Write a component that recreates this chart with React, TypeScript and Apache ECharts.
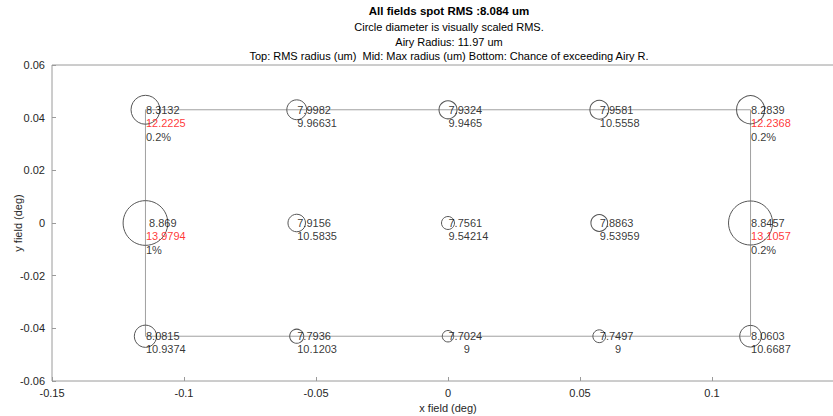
import React, { useEffect, useRef } from "react";
import * as echarts from "echarts";

// ---- data ----
const titleRms = 8.084;
const airyRadius = 11.97;
const xFields = [-0.1146, -0.0573, 0, 0.0573, 0.1146];
const yFields = [0.043, 0, -0.043];
const rmsRadius = [
  [8.3132, 7.9982, 7.9324, 7.9581, 8.2839],
  [8.869, 7.9156, 7.7561, 7.8863, 8.8457],
  [8.0815, 7.7936, 7.7024, 7.7497, 8.0603],
];
const maxRadius = [
  [12.2225, 9.96631, 9.9465, 10.5558, 12.2368],
  [13.9794, 10.5835, 9.54214, 9.53959, 13.1057],
  [10.9374, 10.1203, 9, 9, 10.6687],
];
const chanceExceed: (number | null)[][] = [
  [0.2, null, null, null, 0.2],
  [1, null, null, null, 0.2],
  [null, null, null, null, null],
];
const xTicks = { min: -0.15, max: 0.15, interval: 0.05 };
const yTicks = { min: -0.06, max: 0.06, interval: 0.02 };

// ---- styles ----
const FONT = "'Liberation Sans', Arial, sans-serif";
const SIZE_PER_UM = 28.5;
const SIZE_ZERO_UM = 7.3;

const pad = (v: number) => String(v).padStart(6, "\u00a0");

export default function App() {
  const ref = useRef<HTMLDivElement>(null);
  useEffect(() => {
    if (!ref.current) return;
    const chart = echarts.init(ref.current, undefined, { renderer: "svg" });

    const points: any[] = [];
    yFields.forEach((y, r) => {
      xFields.forEach((x, c) => {
        points.push([x, y, rmsRadius[r][c], maxRadius[r][c], chanceExceed[r][c]]);
      });
    });
    const x0 = xFields[0];
    const x1 = xFields[xFields.length - 1];
    const y0 = yFields[0];
    const y1 = yFields[yFields.length - 1];
    const frame = [
      [x0, y0],
      [x1, y0],
      [x1, y1],
      [x0, y1],
      [x0, y0],
    ];

    const txt = { fontFamily: FONT, fontSize: 11, lineHeight: 13.5 };
    const title = (text: string, y: number, bold = false) => ({
      type: "text",
      x: 449,
      y,
      style: {
        text,
        align: "center",
        verticalAlign: "middle",
        fontFamily: FONT,
        fontSize: bold ? 11.5 : 11,
        fontWeight: bold ? "bold" : "normal",
        fill: "#000",
      },
    });

    chart.setOption({
      animation: false,
      textStyle: { fontFamily: FONT },
      grid: {
        left: 52,
        right: 26,
        top: 65,
        bottom: 35,
        containLabel: false,
        outerBoundsMode: "none",
        show: true,
        borderColor: "#9a9a9a",
        borderWidth: 1,
        backgroundColor: "transparent",
      },
      xAxis: {
        type: "value",
        ...xTicks,
        name: "x field (deg)",
        nameLocation: "middle",
        nameGap: 21,
        nameTextStyle: { fontSize: 11, color: "#262626", fontFamily: FONT },
        axisLine: { show: false, onZero: false },
        axisTick: { show: true, inside: true, length: 4, lineStyle: { color: "#9a9a9a" } },
        splitLine: { show: false },
        axisLabel: {
          color: "#262626",
          fontSize: 11,
          margin: 6,
          fontFamily: FONT,
          showMaxLabel: false,
        },
      },
      yAxis: {
        type: "value",
        ...yTicks,
        name: "y field (deg)",
        nameLocation: "middle",
        nameGap: 29,
        nameMoveOverlap: false,
        nameTextStyle: { fontSize: 11, color: "#262626", fontFamily: FONT },
        axisLine: { show: false, onZero: false },
        axisTick: { show: true, inside: true, length: 4, lineStyle: { color: "#9a9a9a" } },
        splitLine: { show: false },
        axisLabel: { color: "#262626", fontSize: 11, margin: 7, fontFamily: FONT },
      },
      graphic: [
        title(`All fields spot RMS :${titleRms} um`, 11, true),
        title("Circle diameter is visually scaled RMS.", 27),
        title(`Airy Radius: ${airyRadius} um`, 42),
        title("Top: RMS radius (um)  Mid: Max radius (um) Bottom: Chance of exceeding Airy R.", 56),
      ],
      series: [
        {
          type: "line",
          data: frame,
          symbol: "none",
          silent: true,
          lineStyle: { color: "#a0a0a0", width: 1 },
          z: 1,
        },
        {
          type: "scatter",
          data: points,
          symbol: "circle",
          symbolSize: (v: number[]) => SIZE_PER_UM * (v[2] - SIZE_ZERO_UM),
          itemStyle: { color: "rgba(0,0,0,0)", borderColor: "#555", borderWidth: 1, opacity: 1 },
          emphasis: { disabled: true },
          silent: true,
          z: 2,
        },
        {
          type: "scatter",
          data: points,
          symbolSize: 1,
          itemStyle: { color: "rgba(0,0,0,0)" },
          emphasis: { disabled: true },
          silent: true,
          z: 3,
          label: {
            show: true,
            position: "right",
            distance: 0,
            align: "left",
            verticalAlign: "top",
            offset: [0, -7],
            formatter: (p: any) => {
              const [, , rms, mx, ch] = p.value;
              const lines = [`{a|${pad(rms)}}`];
              lines.push(mx > airyRadius ? `{r|${pad(mx)}}` : `{a|${pad(mx)}}`);
              if (ch !== null && ch !== undefined) lines.push(`{a|${ch}%}`);
              return lines.join("\n");
            },
            rich: {
              a: { ...txt, color: "#000" },
              r: { ...txt, color: "#ff0000" },
            },
          },
        },
      ],
    });
    return () => chart.dispose();
  }, []);

  return (
    <div
      style={{
        position: "absolute",
        left: 0,
        top: 0,
        width: 833,
        height: 416,
        overflow: "hidden",
        background: "#fff",
      }}
    >
      <div ref={ref} style={{ width: 870, height: 416 }} />
    </div>
  );
}
